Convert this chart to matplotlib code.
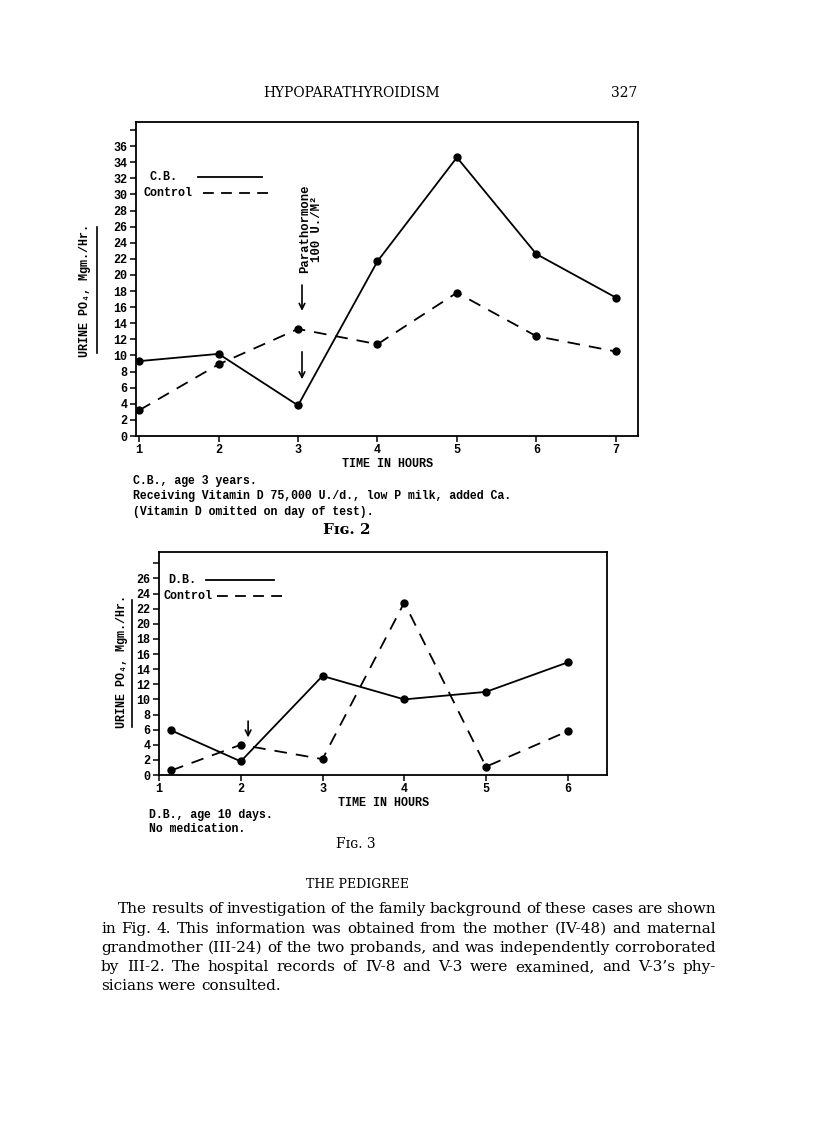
import matplotlib
matplotlib.use('Agg')
import matplotlib.pyplot as plt
from matplotlib.lines import Line2D

W, H = 816, 1122

# Fig. 2 -- C.B. and control, urine PO4 (Mgm./Hr.)
hours_cb = [1, 2, 3, 4, 5, 6, 7]
cb = [9.3, 10.2, 3.8, 21.7, 34.6, 22.6, 17.2]
control_cb = [3.2, 8.9, 13.3, 11.4, 17.8, 12.4, 10.5]

# Fig. 3 -- D.B. and control
hours_db = [1.15, 2, 3, 4, 5, 6]
db = [5.9, 1.8, 13.1, 10.0, 11.0, 14.9]
control_db = [0.6, 4.0, 2.1, 22.8, 1.1, 5.8]

yticks_cb = list(range(0, 40, 2))
yticks_db = list(range(0, 30, 2))

caption_cb = ["C.B., age 3 years.",
              "Receiving Vitamin D 75,000 U./d., low P milk, added Ca.",
              "(Vitamin D omitted on day of test)."]
caption_db = ["D.B., age 10 days.", "No medication."]

para_lines = [
    "The results of investigation of the family background of these cases are shown",
    "in Fig. 4. This information was obtained from the mother (IV-48) and maternal",
    "grandmother (III-24) of the two probands, and was independently corroborated",
    "by III-2. The hospital records of IV-8 and V-3 were examined, and V-3\u2019s phy-",
    "sicians were consulted.",
]

MONO = ['Liberation Mono', 'DejaVu Sans Mono']
SERIF = ['DejaVu Serif', 'DejaVu Sans']
plt.rcParams['font.family'] = MONO
plt.rcParams['font.weight'] = 'bold'


def px(x, y):
    # page pixel -> figure fraction
    return x / W, 1 - y / H


def hline(x0, x1, y, **kw):
    fig.add_artist(Line2D([x0 / W, x1 / W], [1 - y / H, 1 - y / H], color='k', lw=1.3, **kw))


def vline(x, y0, y1):
    fig.add_artist(Line2D([x / W, x / W], [1 - y0 / H, 1 - y1 / H], color='k', lw=1.2))


def axes_at(l, t, r, b):
    return fig.add_axes([l / W, 1 - b / H, (r - l) / W, (b - t) / H])


def style_axes(ax, ticks):
    for s in ax.spines.values():
        s.set_linewidth(1.3)
    ax.set_yticks(ticks)
    ax.set_yticklabels([str(v) for v in ticks[:-1]] + [''])
    ax.tick_params(direction='out', length=4, width=1.1, labelsize=8.5, pad=2)
    ax.set_xlabel('TIME IN HOURS', fontsize=8.5, labelpad=1, fontweight='bold')


def draw_series(ax, x, a, b):
    ax.plot(x, a, color='k', lw=1.3, marker='o', ms=5)
    ax.plot(x, b, color='k', lw=1.3, marker='o', ms=5, dashes=(7, 5))


fig = plt.figure(figsize=(W / 100, H / 100), dpi=100)

# ---- Fig. 2 ----
ax1 = axes_at(136, 122, 638, 436)
draw_series(ax1, hours_cb, cb, control_cb)
ax1.set_xlim(0.96, 7.28)
ax1.set_ylim(0, 39)
ax1.set_xticks(hours_cb)
style_axes(ax1, yticks_cb)
ax1.text(3.165, 20.2, 'Parathormone\n100 U./M\u00b2', rotation=90, ha='center',
         va='bottom', multialignment='center', fontsize=8.8, linespacing=1.0)
ax1.annotate('', xy=(3.05, 15.2), xytext=(3.05, 19.1),
             arrowprops=dict(arrowstyle='->', lw=1.2, color='k'))
ax1.annotate('', xy=(3.05, 6.7), xytext=(3.05, 10.8),
             arrowprops=dict(arrowstyle='->', lw=1.2, color='k'))

# key
fig.text(*px(149, 177), 'C.B.', ha='left', va='center', fontsize=8.5)
hline(198, 262, 177)
fig.text(*px(143, 193), 'Control', ha='left', va='center', fontsize=8.5)
hline(203, 273, 193, dashes=(6, 4))

fig.text(*px(85, 290), 'URINE PO\u2084, Mgm./Hr.', rotation=90, ha='center',
         va='center', fontsize=8.5)
vline(97, 227, 353)

for i, line in enumerate(caption_cb):
    fig.text(*px(133, 481 + i * 15.5), line, ha='left', va='center', fontsize=8.3)
fig.text(*px(347, 530), 'F\u026a\u0262. 2', ha='center', va='center',
         family=SERIF, fontsize=11, fontweight='bold')

# ---- Fig. 3 ----
ax2 = axes_at(159, 552, 607, 775)
draw_series(ax2, hours_db, db, control_db)
ax2.set_xlim(1.02, 6.48)
ax2.set_ylim(0, 29.5)
ax2.set_xticks([1, 2, 3, 4, 5, 6])
style_axes(ax2, yticks_db)
ax2.annotate('', xy=(2.09, 4.6), xytext=(2.09, 7.5),
             arrowprops=dict(arrowstyle='->', lw=1.2, color='k'))

fig.text(*px(168, 580), 'D.B.', ha='left', va='center', fontsize=8.5)
hline(206, 274, 580)
fig.text(*px(164, 596), 'Control', ha='left', va='center', fontsize=8.5)
hline(217, 286, 596, dashes=(6, 4))

fig.text(*px(122, 662), 'URINE PO\u2084, Mgm./Hr.', rotation=90, ha='center',
         va='center', fontsize=8.5)
vline(132, 600, 727)

for i, line in enumerate(caption_db):
    fig.text(*px(149, 815 + i * 14.5), line, ha='left', va='center', fontsize=8.3)
fig.text(*px(356, 844), 'F\u026a\u0262. 3', ha='center', va='center',
         family=SERIF, fontsize=10, fontweight='normal')

# ---- page text ----
fig.text(*px(352, 93), 'HYPOPARATHYROIDISM', ha='center', va='center',
         family=SERIF, fontsize=10, fontweight='normal')
fig.text(*px(637, 93), '327', ha='right', va='center',
         family=SERIF, fontsize=10, fontweight='normal')
fig.text(*px(358, 884), 'THE PEDIGREE', ha='center', va='center',
         family=SERIF, fontsize=9, fontweight='normal')

# justified paragraph
renderer = fig.canvas.get_renderer()
para_y = [909, 929, 948, 967, 986]
for i, (line, y) in enumerate(zip(para_lines, para_y)):
    x0 = 118 if i == 0 else 101
    words = line.split()
    texts = [fig.text(0, 0, w, ha='left', va='center', family=SERIF,
                      fontsize=11.0, fontweight='normal') for w in words]
    widths = [t.get_window_extent(renderer).width for t in texts]
    if i < len(para_lines) - 1:
        gap = max(2.5, (716 - x0 - sum(widths)) / (len(words) - 1))
    else:
        gap = 4.5
    x = x0
    for t, w in zip(texts, widths):
        t.set_position(px(x, y))
        x += w + gap

fig.savefig('out.png', dpi=100)
